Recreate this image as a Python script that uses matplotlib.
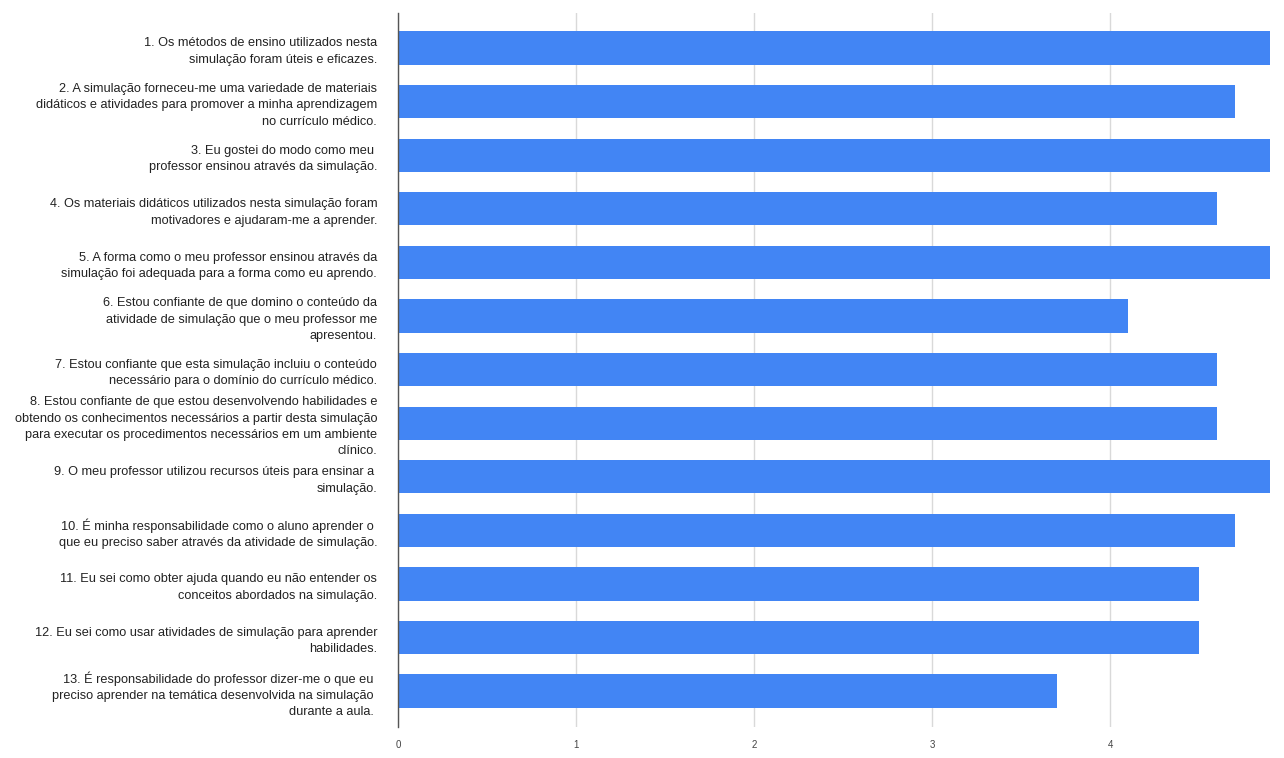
import matplotlib.pyplot as plt

plt.rcParams['font.family'] = ['Liberation Sans', 'DejaVu Sans']

# itens do questionário (eixo y)
labels = [
    "1. Os métodos de ensino utilizados nesta\nsimulação foram úteis e eficazes.",
    "2. A simulação forneceu-me uma variedade de materiais\ndidáticos e atividades para promover a minha aprendizagem\nno currículo médico.",
    "3. Eu gostei do modo como meu \nprofessor ensinou através da simulação.",
    "4. Os materiais didáticos utilizados nesta simulação foram\nmotivadores e ajudaram-me a aprender.",
    "5. A forma como o meu professor ensinou através da\nsimulação foi adequada para a forma como eu aprendo.",
    "6. Estou confiante de que domino o conteúdo da\natividade de simulação que o meu professor me\napresentou.",
    "7. Estou confiante que esta simulação incluiu o conteúdo\nnecessário para o domínio do currículo médico.",
    "8. Estou confiante de que estou desenvolvendo habilidades e\nobtendo os conhecimentos necessários a partir desta simulação\npara executar os procedimentos necessários em um ambiente\nclínico.",
    "9. O meu professor utilizou recursos úteis para ensinar a \nsimulação.",
    "10. É minha responsabilidade como o aluno aprender o \nque eu preciso saber através da atividade de simulação.",
    "11. Eu sei como obter ajuda quando eu não entender os\nconceitos abordados na simulação.",
    "12. Eu sei como usar atividades de simulação para aprender\nhabilidades.",
    "13. É responsabilidade do professor dizer-me o que eu \npreciso aprender na temática desenvolvida na simulação \ndurante a aula. ",
]
# médias
medias = [4.9, 4.7, 4.9, 4.6, 4.9, 4.1, 4.6, 4.6, 4.9, 4.7, 4.5, 4.5, 3.7]
xticks = [0, 1, 2, 3, 4]

W, H = 1284, 758
fig = plt.figure(figsize=(W / 100, H / 100), dpi=100)
ax = fig.add_axes([398 / W, 1 - 727 / H, 890 / W, 714 / H])

y = list(range(len(labels)))
ax.barh(y, medias, height=0.62, color='#4285F4', zorder=3)

ax.set_xlim(0, 5)
ax.set_ylim(12.67, -0.653)
ax.set_yticks(y)
ax.set_yticklabels(labels, fontsize=9.2, color='#222222', linespacing=1.48)
ax.set_xticks(xticks)
ax.set_xticklabels([str(t) for t in xticks], fontsize=7, color='#444444')
ax.tick_params(axis='y', length=0, pad=15)
ax.tick_params(axis='x', length=0, pad=9)
ax.grid(axis='x', color='#d9d9d9', linewidth=1, zorder=0)

for s in ['top', 'right', 'bottom']:
    ax.spines[s].set_visible(False)
ax.spines['left'].set_color('#555555')
ax.spines['left'].set_linewidth(1)
ax.spines['left'].set_zorder(4)

plt.savefig('out.png', dpi=100)
